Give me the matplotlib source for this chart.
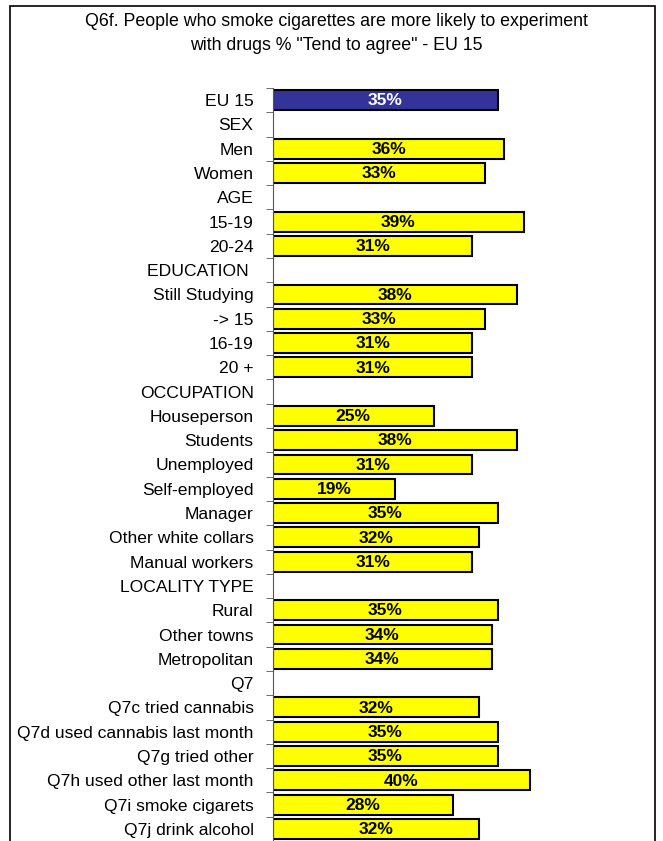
import numpy as np
import matplotlib
matplotlib.use("Agg")
import matplotlib.pyplot as plt
from matplotlib.patches import Rectangle

plt.rcParams['font.family'] = ['Liberation Sans', 'DejaVu Sans']

labels = ["EU 15", "SEX", "Men", "Women", "AGE", "15-19", "20-24",
          "EDUCATION ", "Still Studying", "-> 15", "16-19", "20 +",
          "OCCUPATION", "Houseperson", "Students", "Unemployed", "Self-employed",
          "Manager", "Other white collars", "Manual workers",
          "LOCALITY TYPE", "Rural", "Other towns", "Metropolitan",
          "Q7", "Q7c tried cannabis", "Q7d used cannabis last month",
          "Q7g tried other", "Q7h used other last month",
          "Q7i smoke cigarets", "Q7j drink alcohol"]
# None = section header row without a bar
values = [35, None, 36, 33, None, 39, 31,
          None, 38, 33, 31, 31,
          None, 25, 38, 31, 19, 35, 32, 31,
          None, 35, 34, 34,
          None, 32, 35, 35, 40, 28, 32]

W, H = 663, 841
fig = plt.figure(figsize=(W / 100, H / 100), dpi=100)

# outer frame
fig.patches.append(Rectangle((10 / W, -0.1), 645 / W, 1.1 - 6 / H, transform=fig.transFigure,
                             fill=False, edgecolor='black', linewidth=1.2))

fig.text(336 / W, 1 - 22 / H, 'Q6f. People who smoke cigarettes are more likely to experiment',
         ha='center', va='center', fontsize=12.8)
fig.text(336 / W, 1 - 45 / H, 'with drugs % "Tend to agree" - EU 15',
         ha='center', va='center', fontsize=12.8)

ax = fig.add_axes([273 / W, 0, 382 / W, (H - 88) / H])
y = np.arange(len(labels))
step = 24.37
ax.set_ylim(30 + 10 / step, -0.5)
ax.set_xlim(0, 382 / 6.43)

for i, v in enumerate(values):
    if v is None:
        continue
    color = '#333399' if i == 0 else '#ffff00'
    tcolor = 'white' if i == 0 else 'black'
    ax.barh(i, v, height=0.82, color=color, edgecolor='black', linewidth=1.5)
    ax.text(v / 2, i + 0.03, f'{v}%', ha='center', va='center', fontsize=12.5,
            fontweight='bold', color=tcolor)

ax.set_yticks(y)
ax.set_yticklabels(labels, fontsize=12.6)
ax.tick_params(axis='y', length=0, pad=14)
ax.set_yticks(np.arange(-0.5, len(labels), 1), minor=True)
ax.tick_params(axis='y', which='minor', length=5, color='#555555')
ax.set_xticks([])
for s in ['top', 'right', 'bottom']:
    ax.spines[s].set_visible(False)
ax.spines['left'].set_color('#555555')

fig.savefig('out.png', dpi=100)
